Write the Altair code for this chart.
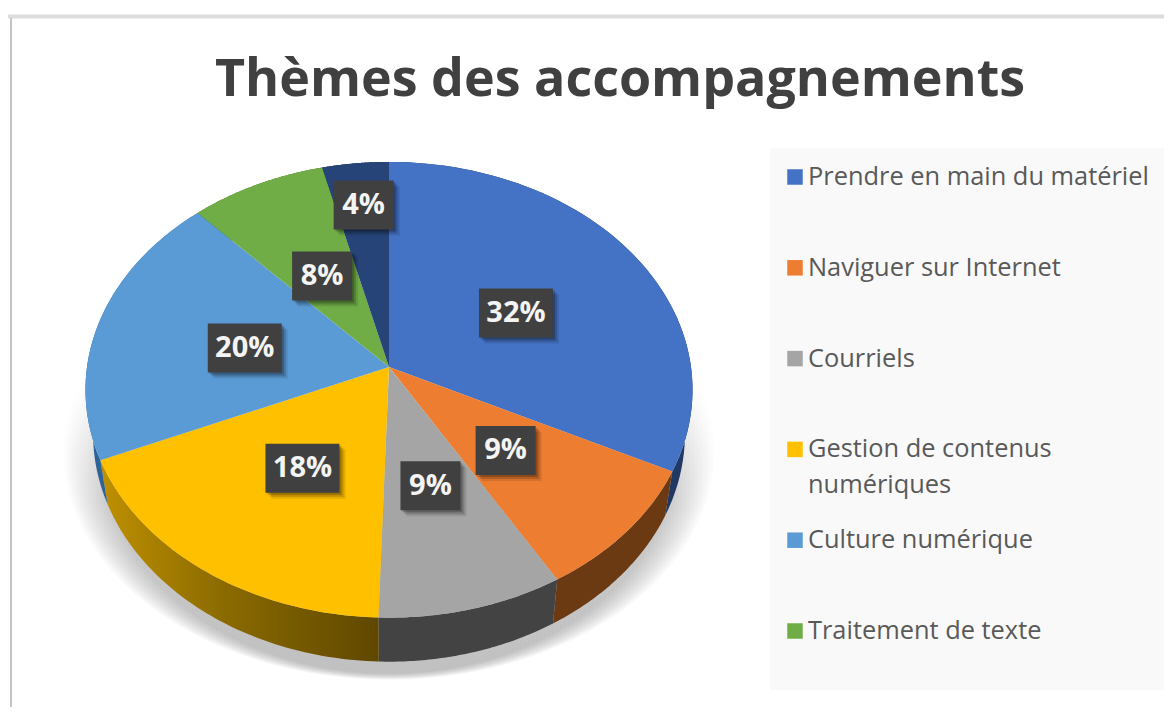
import numpy as np
import pandas as pd
import altair as alt

title = "Thèmes des accompagnements"
categories = ["Prendre en main du matériel", "Naviguer sur Internet", "Courriels",
              "Gestion de contenus numériques", "Culture numérique", "Traitement de texte", "Autres"]
values = [32.3, 9.2, 9.0, 18.0, 19.6, 8.0, 3.9]
top_colors = ["#4472c4", "#ed7d31", "#a5a5a5", "#ffc000", "#5b9bd5", "#70ad47", "#264478"]
wall_colors = ["#1f3864", "#6b3a12", "#434343", "#8a6a00", "#2f6397", "#3c6526", "#14264a"]
legend_lines = [["Prendre en main du matériel"], ["Naviguer sur Internet"], ["Courriels"],
                ["Gestion de contenus", "numériques"], ["Culture numérique"], ["Traitement de texte"]]
label_radius = [0.5, 0.5, 0.5, 0.5, 0.5, 0.5, 0.8]

CX, CY, RX, RY, K, DEPTH, BOTTOM_SCALE = 389, 367, 302, 225.6, 0.1, 44, 0.975


def project(theta, r=1.0, sx=1.0, dy=0.0):
    u, v = r * np.sin(theta), -r * np.cos(theta)
    d = 1 - K * v
    return CX + sx * RX * u / d, CY + dy + RY * v / d


edges = np.concatenate([[0], np.cumsum(values)]) / np.sum(values) * 2 * np.pi


def frame(xs, ys, key):
    return pd.DataFrame({"x": xs, "y": ys, "i": np.arange(len(xs)), "key": key})


tops, walls = [], []
for j, cat in enumerate(categories):
    t = np.linspace(edges[j], edges[j + 1], 60)
    x, y = project(t)
    tops.append(frame(np.r_[CX, x], np.r_[CY, y], cat))
    bx, by = project(t, sx=BOTTOM_SCALE, dy=DEPTH)
    walls.append(frame(np.r_[x, bx[::-1]], np.r_[y, by[::-1]], cat))

x_scale = alt.Scale(domain=[8, 1172], range=[0, 1164], nice=False, zero=False)
y_scale = alt.Scale(domain=[707, 138], range=[569, 0], nice=False, zero=False)


def X(f="x"):
    return alt.X(field=f, type="quantitative", scale=x_scale, axis=None)


def Y(f="y"):
    return alt.Y(field=f, type="quantitative", scale=y_scale, axis=None)


color_scale = alt.Scale(domain=categories, range=top_colors)


def grad(stops, x2=0, y2=1):
    return alt.LinearGradient(gradient="linear", x1=0, y1=0, x2=x2, y2=y2,
                              stops=[alt.GradientStop(offset=o, color=c) for o, c in stops])


layers = []

# soft shadow below the disc
ring = np.linspace(0, 2 * np.pi, 180)
for n, (s, dy) in enumerate(zip(np.linspace(1.07, 0.96, 12), np.linspace(62, 56, 12))):
    sx_, sy_ = project(ring, sx=s, dy=dy)
    layers.append(alt.Chart(frame(sx_, sy_, f"s{n}")).mark_line(
        filled=True, strokeWidth=0,
        fill=grad([(0.0, "rgba(120,120,120,0)"), (0.33, "rgba(120,120,120,0)"),
                   (0.62, "rgba(120,120,120,0.04)"), (1.0, "rgba(120,120,120,0.05)")]),
    ).encode(x=X(), y=Y(), order="i:Q"))

# rim walls
for j, w in enumerate(walls):
    fill = wall_colors[j]
    if j == 3:
        fill = grad([(0, "#bf9000"), (0.45, "#8a6a00"), (1, "#5f4700")], x2=1, y2=0)
    layers.append(alt.Chart(w).mark_line(filled=True, strokeWidth=0, fill=fill).encode(
        x=X(), y=Y(), order="i:Q"))

# top faces
layers.append(alt.Chart(pd.concat(tops)).mark_line(filled=True, strokeWidth=0).encode(
    x=X(), y=Y(), order="i:Q", color=alt.Color("key:N", scale=color_scale, legend=None)))

# data labels
mids = (edges[:-1] + edges[1:]) / 2
lx, ly = project(mids, r=np.array(label_radius))
lx, ly = lx + 2, ly + 4
pct = [f"{round(v)}%" for v in values]
half = [37 if len(p) == 3 else 30 for p in pct]
labels = pd.DataFrame({"x": lx, "y": ly, "text": pct, "half": half})
labels["x0"], labels["x1"] = labels.x - labels.half, labels.x + labels.half
labels["y0"], labels["y1"] = labels.y - 24.5, labels.y + 24.5
for off, op in [(6, 0.10), (4, 0.16), (2, 0.22)]:
    sh = labels.assign(x0=labels.x0 + off, x1=labels.x1 + off, y0=labels.y0 + off, y1=labels.y1 + off)
    layers.append(alt.Chart(sh).mark_rect(color="#000000", opacity=op).encode(
        x=X("x0"), x2="x1:Q", y=Y("y0"), y2="y1:Q"))
layers.append(alt.Chart(labels).mark_rect(color="#404040").encode(
    x=X("x0"), x2="x1:Q", y=Y("y0"), y2="y1:Q"))
layers.append(alt.Chart(labels).mark_text(font="Open Sans", fontSize=29, fontWeight="bold", color="#f4f4f4").encode(
    x=X(), y=Y(), text="text:N"))

# legend panel and entries
panel = pd.DataFrame({"x": [770], "x1": [1165], "y": [148], "y1": [690]})
layers.append(alt.Chart(panel).mark_rect(color="#f9f9f9").encode(x=X(), x2="x1:Q", y=Y(), y2="y1:Q"))

LEG_X, LEG_Y, LEG_STEP, LINE_H = 795, 177, 90.8, 36
rows, squares = [], []
for n, lines in enumerate(legend_lines):
    squares.append({"x": LEG_X, "y": LEG_Y + n * LEG_STEP, "key": categories[n]})
    for m, line in enumerate(lines):
        rows.append({"x": LEG_X + 13, "y": LEG_Y + n * LEG_STEP + m * LINE_H, "text": line})
layers.append(alt.Chart(pd.DataFrame(squares)).mark_square(size=240, opacity=1, filled=True).encode(
    x=X(), y=Y(), color=alt.Color("key:N", scale=color_scale, legend=None)))
layers.append(alt.Chart(pd.DataFrame(rows)).mark_text(
    align="left", font="Open Sans", fontSize=25.4, color="#595959").encode(x=X(), y=Y(), text="text:N"))

# frame of the captured picture
layers.append(alt.Chart(pd.DataFrame({"x": [3], "x1": [1172], "y": [16.5]})).mark_rule(
    color="#dcdcdc", strokeWidth=4).encode(x=X(), x2="x1:Q", y=Y()))
layers.append(alt.Chart(pd.DataFrame({"x": [11], "y": [18], "y1": [715]})).mark_rule(
    color="#c4c4c4", strokeWidth=2).encode(x=X(), y=Y(), y2="y1:Q"))

chart = alt.layer(*layers).resolve_scale(color="shared").properties(
    width=1156, height=569,
    autosize=alt.AutoSizeParams(type="none"),
    padding={"left": 0, "top": 130, "right": 0, "bottom": 0},
    background="#ffffff",
    title=alt.Title(title, font="Open Sans", fontSize=52, fontWeight="bold", color="#404040",
                    anchor="middle", dx=34, offset=0, dy=92),
).configure_view(stroke=None)

chart.save("out.html", embed_options={"renderer": "svg", "actions": False})
